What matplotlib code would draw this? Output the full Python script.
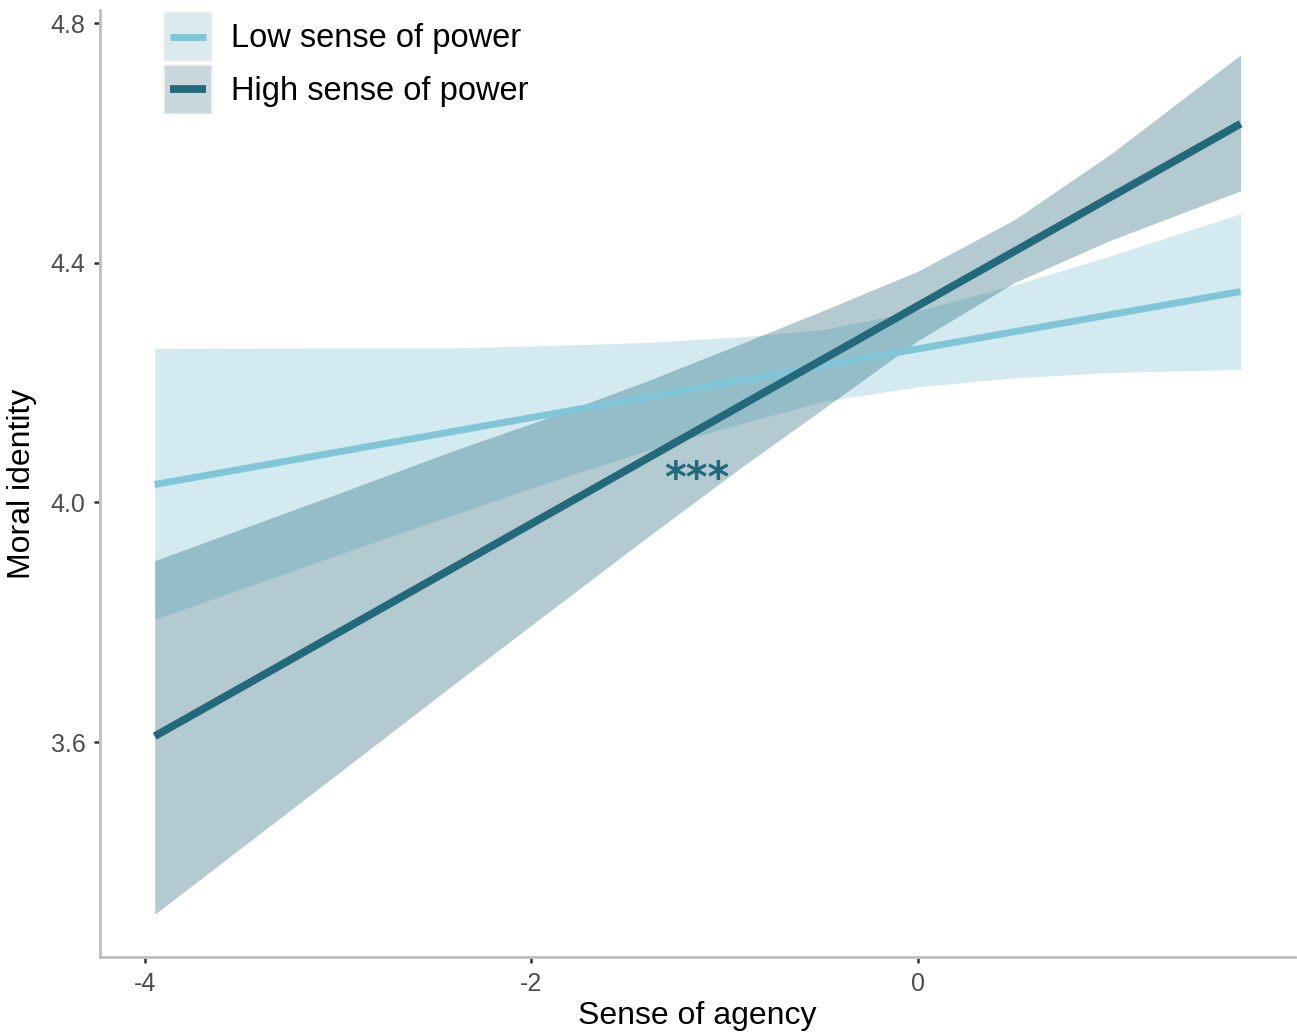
import numpy as np
import matplotlib
matplotlib.use("Agg")
import matplotlib.pyplot as plt
from matplotlib.patches import Rectangle
from matplotlib.lines import Line2D
from matplotlib.legend_handler import HandlerBase

plt.rcParams["font.family"] = ["Liberation Sans", "DejaVu Sans"]

# simple slopes: moral identity on sense of agency, by sense of power
agency = [-3.95, -3.0, -2.4, -1.9, -1.4, -0.9, -0.5, 0.0, 0.5, 1.0, 1.67]

low_fit = [4.030, 4.352]  # at agency[0] and agency[-1]
low_upper = [4.257, 4.258, 4.258, 4.262, 4.267, 4.277, 4.288, 4.320, 4.363, 4.412, 4.482]
low_lower = [3.805, 3.913, 3.980, 4.035, 4.087, 4.133, 4.168, 4.193, 4.208, 4.217, 4.222]

high_fit = [3.610, 4.632]
high_upper = [3.903, 4.015, 4.087, 4.143, 4.203, 4.267, 4.319, 4.386, 4.472, 4.582, 4.747]
high_lower = [3.313, 3.548, 3.697, 3.820, 3.942, 4.062, 4.154, 4.270, 4.367, 4.438, 4.520]

groups = ["Low sense of power", "High sense of power"]
line_cols = ["#80c6d8", "#23697b"]
band_cols = ["#d3ebf0", "#b1c8ce"]
key_cols = ["#dbe9ed", "#c9d7dc"]

star_x, star_y = -1.144, 4.038


class KeyHandler(HandlerBase):
    # legend key: shaded box with a shorter line across the middle
    def __init__(self, box, line, lw):
        super().__init__()
        self.box, self.line, self.lw = box, line, lw

    def create_artists(self, legend, orig_handle, xd, yd, w, h, fontsize, trans):
        r = Rectangle((-xd, -yd), w, h, facecolor=self.box,
                      edgecolor="#f2f2f2", lw=1.2, transform=trans)
        pad = w * 0.12
        ln = Line2D([-xd + pad, -xd + w - pad], [-yd + h / 2, -yd + h / 2],
                    color=self.line, lw=self.lw, solid_capstyle="butt",
                    transform=trans)
        return [r, ln]


fig = plt.figure(figsize=(12.97, 10.34), dpi=100)
ax = fig.add_axes([0.0771, 0.0745, 0.9213, 0.9158])

ax.fill_between(agency, low_lower, low_upper, color=band_cols[0], lw=0, zorder=1)
ax.fill_between(agency, high_lower, high_upper, color="#23697b", alpha=0.35, lw=0, zorder=2)
ax.plot([agency[0], agency[-1]], low_fit, color=line_cols[0],
        lw=5.0, solid_capstyle="butt", zorder=3)
ax.plot([agency[0], agency[-1]], high_fit, color=line_cols[1],
        lw=5.6, solid_capstyle="butt", zorder=4)

ax.text(star_x, star_y, "***", color=line_cols[1], fontsize=30, fontweight="bold",
        family="DejaVu Sans", ha="center", va="center", zorder=5)

ax.set_xlim(-4.233, 1.951)
ax.set_ylim(3.2417, 4.8217)
ax.set_xticks([-4, -2, 0])
ax.set_xticklabels(["-4", "-2", "0"])
ax.set_yticks([3.6, 4.0, 4.4, 4.8])
ax.set_yticklabels(["3.6", "4.0", "4.4", "4.8"])

for s in ["top", "right"]:
    ax.spines[s].set_visible(False)
for s in ["left", "bottom"]:
    ax.spines[s].set_color("#bebebe")
    ax.spines[s].set_linewidth(2.0)
ax.tick_params(length=4.5, width=1.8, color="#333333", labelcolor="#4d4d4d",
               labelsize=18, pad=6)

ax.set_xlabel("Sense of agency", fontsize=23, color="black", labelpad=4)
ax.set_ylabel("Moral identity", fontsize=23, color="black", labelpad=10)

hdls = [Rectangle((0, 0), 1, 1), Rectangle((0, 0), 1, 1)]
hmap = {hdls[0]: KeyHandler(key_cols[0], line_cols[0], 5.0),
        hdls[1]: KeyHandler(key_cols[1], line_cols[1], 5.6)}
fig.legend(hdls, groups, handler_map=hmap, loc="upper left",
           bbox_to_anchor=(164 / 1297, 1 - 12 / 1034), frameon=False,
           fontsize=23.5, handlelength=1.47, handleheight=1.95, labelspacing=0.1,
           handletextpad=0.58, borderpad=0, borderaxespad=0)

fig.savefig("out.png", dpi=100, facecolor="white")
